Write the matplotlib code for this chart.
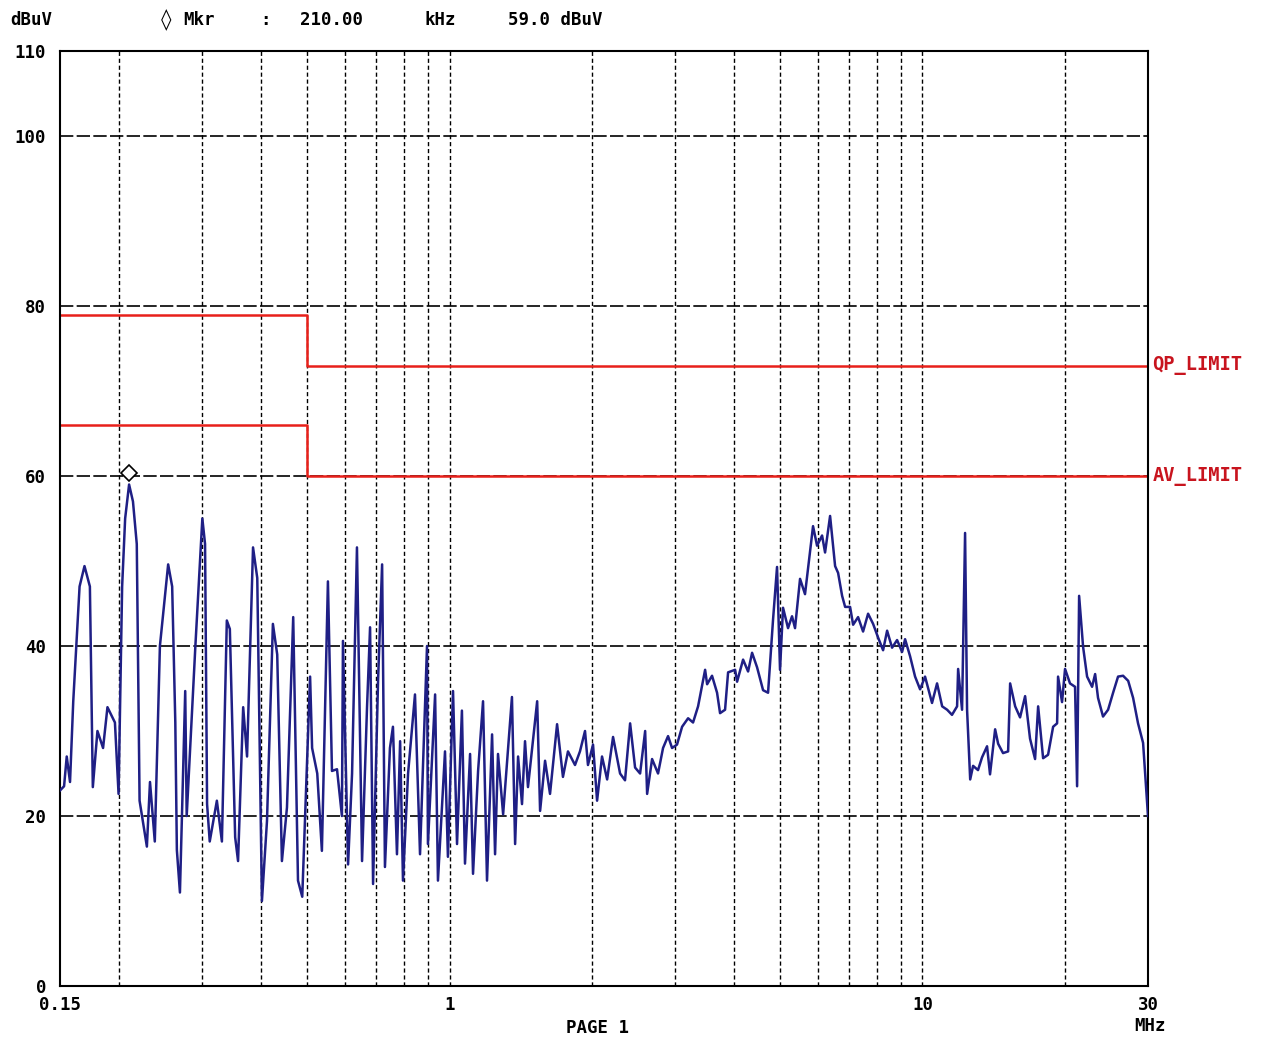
import matplotlib
matplotlib.use("Agg")
import matplotlib.pyplot as plt
import matplotlib.transforms as mtransforms

# ---------------- data ----------------
freq_mhz = [0.150, 0.153, 0.155, 0.1575, 0.160, 0.165, 0.169, 0.1735, 0.176, 0.180,
            0.185, 0.189, 0.196, 0.1995, 0.203, 0.206, 0.210, 0.214, 0.218, 0.221,
            0.229, 0.2325, 0.238, 0.244, 0.254, 0.259, 0.263, 0.265, 0.269, 0.276,
            0.278, 0.290, 0.300, 0.304, 0.307, 0.311, 0.322, 0.330, 0.338, 0.343,
            0.352, 0.357, 0.366, 0.373, 0.384, 0.392, 0.401, 0.411, 0.423, 0.432,
            0.442, 0.453, 0.467, 0.478, 0.488, 0.507, 0.512, 0.525, 0.537, 0.553,
            0.564, 0.578, 0.592, 0.595, 0.610, 0.622, 0.637, 0.653, 0.669, 0.679,
            0.689, 0.706, 0.720, 0.730, 0.748, 0.759, 0.774, 0.786, 0.797, 0.817,
            0.845, 0.866, 0.896, 0.900, 0.932, 0.945, 0.978, 0.992, 1.017, 1.037,
            1.062, 1.078, 1.105, 1.121, 1.149, 1.177, 1.200, 1.230, 1.248, 1.266,
            1.298, 1.355, 1.376, 1.396, 1.423, 1.444, 1.465, 1.532, 1.554, 1.592,
            1.631, 1.688, 1.737, 1.780, 1.842, 1.887, 1.934, 1.962, 2.011, 2.051,
            2.101, 2.154, 2.217, 2.294, 2.350, 2.409, 2.468, 2.529, 2.592, 2.617,
            2.681, 2.760, 2.828, 2.898, 2.955, 3.027, 3.103, 3.195, 3.273, 3.354,
            3.471, 3.505, 3.590, 3.679, 3.733, 3.825, 3.882, 4.017, 4.056, 4.176,
            4.279, 4.363, 4.470, 4.603, 4.716, 4.832, 4.927, 4.999, 5.073, 5.198,
            5.300, 5.378, 5.511, 5.646, 5.730, 5.871, 5.987, 6.135, 6.225, 6.379,
            6.537, 6.633, 6.764, 6.864, 7.032, 7.136, 7.311, 7.491, 7.676, 7.866,
            8.058, 8.258, 8.421, 8.627, 8.840, 9.059, 9.191, 9.417, 9.650, 9.888,
            10.13, 10.48, 10.74, 11.01, 11.28, 11.55, 11.84, 11.90, 12.13, 12.31,
            12.43, 12.62, 12.80, 13.11, 13.37, 13.70, 13.90, 14.25, 14.46, 14.81,
            15.18, 15.33, 15.71, 16.09, 16.49, 16.89, 17.31, 17.57, 18.00, 18.44,
            18.90, 19.27, 19.36, 19.74, 20.03, 20.52, 21.03, 21.24, 21.45, 21.87,
            22.30, 22.85, 23.19, 23.52, 24.10, 24.70, 25.31, 25.93, 26.57, 27.24,
            27.90, 28.58, 29.29, 30.00]

level_dbuv = [23.0, 23.5, 27.0, 24.0, 33.5, 47.0, 49.4, 47.0, 23.4, 30.0,
              28.0, 32.8, 31.0, 22.6, 47.0, 55.0, 59.0, 57.0, 52.0, 21.8,
              16.4, 24.0, 17.0, 40.0, 49.6, 47.0, 31.0, 16.0, 11.0, 34.7,
              20.0, 40.0, 55.0, 52.0, 21.4, 17.0, 21.8, 17.0, 43.0, 42.0,
              17.5, 14.7, 32.8, 27.0, 51.6, 48.0, 10.0, 19.4, 42.6, 39.0,
              14.7, 21.0, 43.4, 12.4, 10.5, 36.4, 28.0, 25.0, 15.9, 47.6,
              25.3, 25.5, 20.0, 40.6, 14.3, 25.0, 51.6, 14.7, 32.8, 42.2,
              12.0, 36.0, 49.6, 14.0, 28.0, 30.5, 15.5, 28.8, 12.4, 25.0,
              34.3, 15.5, 40.0, 16.7, 34.3, 12.4, 27.6, 15.2, 34.7, 16.7,
              32.4, 14.4, 27.3, 13.2, 25.3, 33.5, 12.4, 29.6, 15.5, 27.3,
              20.2, 34.0, 16.7, 27.0, 21.4, 28.8, 23.4, 33.5, 20.6, 26.5,
              22.6, 30.8, 24.6, 27.6, 26.0, 27.6, 30.0, 26.0, 28.4, 21.8,
              27.0, 24.3, 29.3, 25.0, 24.2, 30.9, 25.7, 25.0, 30.0, 22.6,
              26.7, 25.0, 28.0, 29.4, 28.0, 28.4, 30.5, 31.5, 31.0, 32.9,
              37.2, 35.5, 36.5, 34.5, 32.1, 32.5, 36.9, 37.2, 35.8, 38.4,
              37.0, 39.2, 37.5, 34.8, 34.5, 43.1, 49.3, 37.2, 44.5, 42.1,
              43.5, 42.1, 47.9, 46.1, 49.1, 54.1, 51.8, 53.0, 51.0, 55.3,
              49.4, 48.6, 45.9, 44.6, 44.6, 42.5, 43.4, 41.7, 43.8, 42.6,
              41.0, 39.5, 41.8, 39.8, 40.7, 39.3, 40.8, 38.8, 36.4, 34.9,
              36.4, 33.3, 35.6, 32.9, 32.5, 31.9, 32.9, 37.3, 32.5, 53.3,
              32.5, 24.3, 25.9, 25.4, 26.9, 28.2, 24.9, 30.2, 28.5, 27.4,
              27.6, 35.6, 32.9, 31.6, 34.1, 29.1, 26.7, 32.9, 26.8, 27.2,
              30.5, 30.9, 36.4, 33.4, 37.3, 35.6, 35.2, 23.5, 45.9, 39.9,
              36.4, 35.2, 36.7, 33.9, 31.7, 32.5, 34.5, 36.4, 36.5, 35.9,
              33.9, 30.9, 28.6, 20.0]

qp_limit_freq = [0.15, 0.5, 0.5, 30.0]
qp_limit_level = [79.0, 79.0, 73.0, 73.0]
av_limit_freq = [0.15, 0.5, 0.5, 30.0]
av_limit_level = [66.0, 66.0, 60.0, 60.0]

marker_freq = 0.21
marker_level = 59.0

y_ticks = [0, 20, 40, 60, 80, 100, 110]
x_ticks = [0.15, 1, 10, 30]
x_tick_labels = ["0.15", "1", "10", "30"]
x_grid = [0.2, 0.3, 0.4, 0.5, 0.6, 0.7, 0.8, 0.9, 1, 2, 3, 4, 5, 6, 7, 8, 9, 10, 20]
y_grid = [20, 40, 60, 80, 100]

# ---------------- figure ----------------
W, H = 1275, 1039
fig = plt.figure(figsize=(W / 100, H / 100), dpi=100)
left, right, top, bottom = 60, 1148, 51, 986
ax = fig.add_axes([left / W, 1 - bottom / H, (right - left) / W, (bottom - top) / H])

mono = {"family": "DejaVu Sans Mono", "weight": "bold", "size": 12.5}

ax.set_xscale("log")
ax.set_xlim(0.15, 30)
ax.set_ylim(0, 110)

for f in x_grid:
    ax.axvline(f, color="black", lw=1.0, ls=(0, (3, 2)), zorder=1)
for yv in y_grid:
    ax.axhline(yv, color="black", lw=1.2, ls=(0, (8, 2)), zorder=1)

ax.plot(qp_limit_freq, qp_limit_level, color="#e8201a", lw=1.8, zorder=2)
ax.plot(av_limit_freq, av_limit_level, color="#e8201a", lw=1.8, zorder=2)

ax.plot(freq_mhz, level_dbuv, color="#1f1f85", lw=1.8, zorder=3)

off = mtransforms.offset_copy(ax.transData, fig=fig, x=0, y=8, units="points")
ax.plot([marker_freq], [marker_level], marker="D", ms=8, mfc="white", mec="black",
        mew=1.2, transform=off, zorder=4)

for s in ax.spines.values():
    s.set_color("black")
    s.set_linewidth(1.5)

ax.set_yticks(y_ticks)
ax.set_yticklabels([str(v) for v in y_ticks], fontdict=mono)
ax.set_xticks(x_ticks)
ax.set_xticklabels(x_tick_labels, fontdict=mono)
ax.xaxis.set_minor_locator(matplotlib.ticker.NullLocator())
ax.tick_params(axis="both", length=0)
ax.tick_params(axis="y", pad=10)
ax.tick_params(axis="x", pad=7)

# right-hand limit labels
lab = dict(mono, size=13.5)
ax.text(1.004, 73, "QP_LIMIT", transform=ax.get_yaxis_transform(), color="#c8141e",
        ha="left", va="center", **lab)
ax.text(1.004, 60, "AV_LIMIT", transform=ax.get_yaxis_transform(), color="#c8141e",
        ha="left", va="center", **lab)

# header and footer texts
yh = 1 - 20 / H
fig.text(10 / W, yh, "dBuV", ha="left", va="center", **mono)
fig.text(166 / W, yh, "\u25CA", ha="center", va="center", **dict(mono, size=15))
fig.text(183 / W, yh, "Mkr", ha="left", va="center", **mono)
fig.text(265 / W, yh, ":", ha="center", va="center", **mono)
fig.text(300 / W, yh, "210.00", ha="left", va="center", **mono)
fig.text(425 / W, yh, "kHz", ha="left", va="center", **mono)
fig.text(508 / W, yh, "59.0 dBuV", ha="left", va="center", **mono)
fig.text(1150 / W, 1 - 1026 / H, "MHz", ha="center", va="center", **mono)
fig.text(598 / W, 1 - 1028 / H, "PAGE 1", ha="center", va="center", **mono)

fig.savefig("out.png", dpi=100, facecolor="white")
